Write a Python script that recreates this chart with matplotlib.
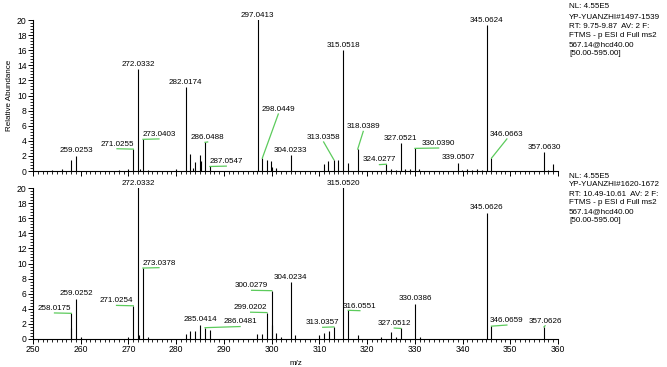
import matplotlib
matplotlib.use("Agg")
import matplotlib.pyplot as plt
from matplotlib.ticker import MultipleLocator

plt.rcParams['font.family'] = ['Liberation Sans', 'DejaVu Sans']

# ---- data: top spectrum (scan 1497-1539) ----
top_mz = [254.0, 256.1, 257.9, 259.0253, 268.0, 270.0, 271.0255, 272.0332, 272.4,
          273.0403, 274.0, 280.0, 282.0174, 282.9, 283.5, 284.0, 284.9, 285.1,
          286.0488, 287.0547, 297.0413, 298.0449, 299.0, 299.9, 300.1, 300.9,
          304.0233, 310.9, 311.9, 313.0358, 313.9, 315.0518, 316.0, 318.0389,
          324.0277, 325.0, 326.0, 327.0521, 328.0, 329.0, 330.0390, 330.9,
          339.0507, 339.9, 340.9, 341.9, 343.0, 344.0, 345.0624, 346.0663,
          357.0630, 358.0, 358.9]
top_int = [0.2, 0.3, 1.5, 2.0, 0.2, 0.3, 2.9, 13.5, 0.3,
           4.2, 0.2, 0.3, 11.1, 2.2, 0.4, 1.2, 2.1, 1.3,
           3.8, 0.6, 25.0, 1.7, 1.5, 1.3, 0.5, 0.4,
           2.1, 0.9, 1.3, 1.5, 1.5, 16.0, 1.1, 2.9,
           0.9, 0.3, 0.2, 3.7, 0.3, 0.3, 3.0, 0.3,
           1.1, 0.2, 0.3, 0.2, 0.3, 0.2, 19.3, 1.7,
           2.5, 0.2, 0.9]
top_labels = ['259.0253', '271.0255', '272.0332', '273.0403', '282.0174', '286.0488',
              '287.0547', '297.0413', '298.0449', '304.0233', '313.0358', '315.0518',
              '318.0389', '324.0277', '327.0521', '330.0390', '339.0507', '345.0624',
              '346.0663', '357.0630']

# ---- data: bottom spectrum (scan 1620-1672) ----
bot_mz = [257.9, 258.0175, 259.0252, 260.0, 270.0, 271.0254, 272.0332, 272.2, 274.0,
          273.0378, 282.0, 283.0, 284.0, 285.0414, 286.0481, 287.0, 297.0, 298.0,
          299.0202, 300.0279, 300.15, 301.0, 302.0, 304.0234, 305.0, 310.0, 311.0,
          312.0, 313.0357, 315.0520, 316.0551, 318.0, 323.0, 325.0, 326.0, 327.0512,
          330.0386, 331.0, 345.0626, 346.0659, 357.0626]
bot_int = [1.5, 3.4, 5.3, 0.3, 0.3, 4.4, 25.0, 0.5, 0.2,
           9.4, 0.6, 1.1, 1.0, 1.9, 1.5, 1.2, 0.6, 0.7,
           3.5, 6.4, 1.8, 0.8, 0.2, 7.5, 0.5, 0.5, 0.8,
           1.0, 1.6, 25.0, 3.8, 0.5, 0.3, 0.9, 0.3, 1.4,
           4.7, 0.3, 16.7, 1.7, 1.6]
bot_labels = ['258.0175', '259.0252', '271.0254', '272.0332', '273.0378', '285.0414',
              '286.0481', '299.0202', '300.0279', '304.0234', '313.0357', '315.0520',
              '316.0551', '327.0512', '330.0386', '345.0626', '346.0659', '357.0626']

# label text placed away from its peak (joined with a green leader)
top_moved = {'271.0255': (267.6, 3.1), '273.0403': (276.4, 4.4), '286.0488': (286.6, 4.0),
             '287.0547': (290.5, 0.8), '298.0449': (301.4, 7.7), '313.0358': (310.9, 4.0),
             '318.0389': (319.2, 5.4), '324.0277': (322.6, 1.0), '330.0390': (335.0, 3.2),
             '346.0663': (349.3, 4.4)}
bot_moved = {'258.0175': (254.5, 3.6), '271.0254': (267.5, 4.6), '273.0378': (276.4, 9.6),
             '286.0481': (293.4, 1.8), '299.0202': (295.6, 3.7), '300.0279': (295.8, 6.6),
             '313.0357': (310.7, 1.7), '316.0551': (318.5, 3.9), '327.0512': (325.7, 1.6),
             '346.0659': (349.3, 2.0), '357.0626': (357.3, 1.9)}

top_info = ['NL: 4.55E5', 'YP-YUANZHI#1497-1539', 'RT: 9.75-9.87  AV: 2 F:',
            'FTMS - p ESI d Full ms2', '567.14@hcd40.00', '[50.00-595.00]']
bot_info = ['NL: 4.55E5', 'YP-YUANZHI#1620-1672', 'RT: 10.49-10.61  AV: 2 F:',
            'FTMS - p ESI d Full ms2', '567.14@hcd40.00', '[50.00-595.00]']

GREEN = '#5ccb5c'
FS = 5.8

fig = plt.figure(figsize=(6.67, 3.67), dpi=100)
ax1 = fig.add_axes([0.0495, 0.534, 0.787, 0.4114])
ax2 = fig.add_axes([0.0495, 0.0763, 0.787, 0.4114])


def draw_spectrum(ax, mz, inten, labels, moved):
    ax.vlines(mz, 0, inten, color='black', lw=0.8)
    ax.set_xlim(250, 360)
    ax.set_ylim(0, 20)
    for lab in labels:
        x = float(lab)
        i = min(range(len(mz)), key=lambda k: abs(mz[k] - x))
        h = min(inten[i], 20)
        if lab in moved:
            tx, ty = moved[lab]
            ax.plot([x, tx], [h, ty - 0.15], color=GREEN, lw=0.9, clip_on=False)
            ax.text(tx, ty, lab, ha='center', va='bottom', fontsize=FS, clip_on=False)
        else:
            ax.text(x, h + 0.2, lab, ha='center', va='bottom', fontsize=FS, clip_on=False)
    for s in ['top', 'right']:
        ax.spines[s].set_visible(False)
    ax.spines['left'].set_linewidth(0.8)
    ax.spines['bottom'].set_linewidth(0.8)
    ax.xaxis.set_major_locator(MultipleLocator(10))
    ax.xaxis.set_minor_locator(MultipleLocator(1))
    ax.yaxis.set_major_locator(MultipleLocator(2))
    ax.yaxis.set_minor_locator(MultipleLocator(0.4))
    ax.tick_params(which='major', length=3.5, width=0.7, labelsize=FS + 0.4, pad=1)
    ax.tick_params(which='minor', length=2, width=0.6)


draw_spectrum(ax1, top_mz, top_int, top_labels, top_moved)
draw_spectrum(ax2, bot_mz, bot_int, bot_labels, bot_moved)
ax1.tick_params(axis='x', labelbottom=False)

ax1.set_ylabel('Relative Abundance', fontsize=FS)
ax1.yaxis.set_label_coords(-0.038, 0.5)
ax2.set_xlabel('m/z', fontsize=FS, labelpad=4)

for k, line in enumerate(top_info):
    y0 = 1 - 7 / 367 if k == 0 else 1 - (17.5 + 9 * (k - 1)) / 367
    fig.text(0.853, y0, line, fontsize=FS, va='center', ha='left')
for k, line in enumerate(bot_info):
    y0 = 1 - (176 + 9 * k) / 367
    fig.text(0.853, y0, line, fontsize=FS, va='center', ha='left')

fig.savefig('out.png', dpi=100)
